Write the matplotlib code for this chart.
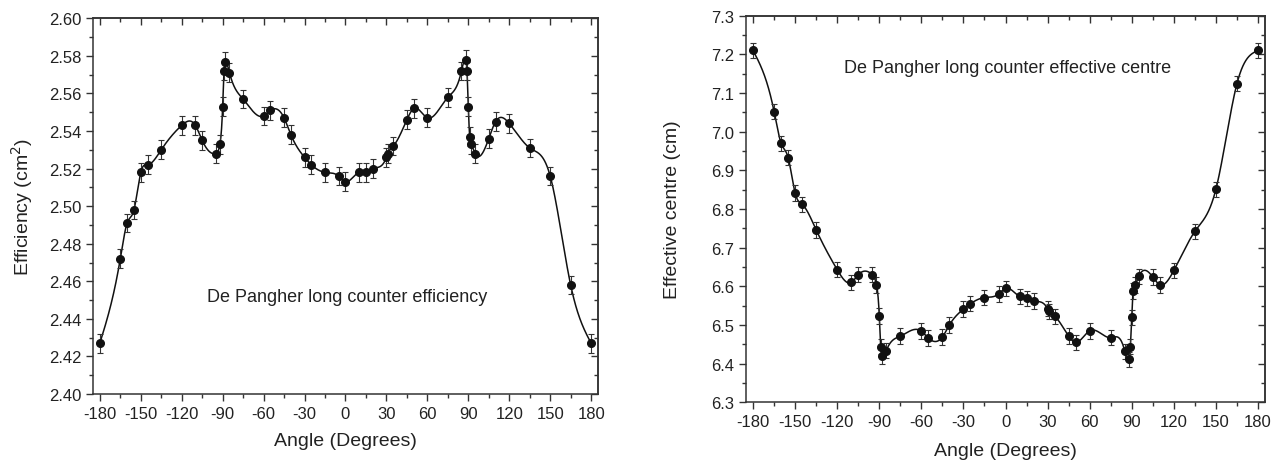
import numpy as np
import matplotlib
matplotlib.use("Agg")
import matplotlib.pyplot as plt
from matplotlib.ticker import MultipleLocator, FormatStrFormatter

plt.rcParams['font.family'] = ['Liberation Sans', 'DejaVu Sans']
plt.rcParams['axes.unicode_minus'] = False

angles = [-180, -165, -160, -155, -150, -145, -135, -120, -110, -105, -95, -92, -90, -89, -88, -85,
          -75, -60, -55, -45, -40, -30, -25, -15, -5, 0, 10, 15, 20, 30, 31, 35, 45, 50, 60, 75,
          85, 88, 89, 90, 91, 92, 95, 105, 110, 120, 135, 150, 165, 180]

efficiency = [2.427, 2.472, 2.491, 2.498, 2.518, 2.522, 2.530, 2.543, 2.543, 2.535, 2.528, 2.533,
              2.553, 2.572, 2.577, 2.571, 2.557, 2.548, 2.551, 2.547, 2.538, 2.526, 2.522, 2.518,
              2.516, 2.513, 2.518, 2.518, 2.520, 2.526, 2.528, 2.532, 2.546, 2.552, 2.547, 2.558,
              2.572, 2.578, 2.572, 2.553, 2.537, 2.533, 2.528, 2.536, 2.545, 2.544, 2.531, 2.516,
              2.458, 2.427]
efficiency_err = 0.005

centre = [7.210, 7.052, 6.970, 6.933, 6.841, 6.812, 6.746, 6.643, 6.610, 6.630, 6.630, 6.604,
          6.523, 6.444, 6.419, 6.434, 6.471, 6.484, 6.466, 6.469, 6.500, 6.541, 6.555, 6.571,
          6.580, 6.595, 6.574, 6.569, 6.562, 6.542, 6.535, 6.522, 6.471, 6.455, 6.485, 6.467,
          6.432, 6.411, 6.444, 6.520, 6.588, 6.603, 6.626, 6.624, 6.604, 6.641, 6.742, 6.851,
          7.124, 7.210]
centre_err = 0.02

x_ticks = [-180, -150, -120, -90, -60, -30, 0, 30, 60, 90, 120, 150, 180]


def natural_spline(x, y, xs):
    x = np.asarray(x, float)
    y = np.asarray(y, float)
    n = len(x)
    h = np.diff(x)
    A = np.zeros((n, n))
    b = np.zeros(n)
    A[0, 0] = 1
    A[-1, -1] = 1
    for i in range(1, n - 1):
        A[i, i - 1] = h[i - 1]
        A[i, i] = 2 * (h[i - 1] + h[i])
        A[i, i + 1] = h[i]
        b[i] = 6 * ((y[i + 1] - y[i]) / h[i] - (y[i] - y[i - 1]) / h[i - 1])
    M = np.linalg.solve(A, b)
    idx = np.clip(np.searchsorted(x, xs) - 1, 0, n - 2)
    x0, x1 = x[idx], x[idx + 1]
    hh = x1 - x0
    t0 = x1 - xs
    t1 = xs - x0
    return (M[idx] * t0 ** 3 / (6 * hh) + M[idx + 1] * t1 ** 3 / (6 * hh)
            + (y[idx] / hh - M[idx] * hh / 6) * t0 + (y[idx + 1] / hh - M[idx + 1] * hh / 6) * t1)


fig = plt.figure(figsize=(12.81, 4.64), dpi=100)
ax1 = fig.add_axes([0.0726, 0.1487, 0.3942, 0.8097])
ax2 = fig.add_axes([0.5824, 0.1308, 0.4051, 0.8332])

xs = np.linspace(-180, 180, 3000)
txt = '#222222'

for ax, vals, err, ylim, major, minor, fmt, ylabel, ypad, xpad, label, lpos in [
        (ax1, efficiency, efficiency_err, (2.40, 2.60), 0.02, 0.01, '%.2f', 'Efficiency (cm$^2$)', 10, 8,
         'De Pangher long counter efficiency', (-101.5, 2.452)),
        (ax2, centre, centre_err, (6.3, 7.3), 0.1, 0.05, '%.1f', 'Effective centre (cm)', 22, 9,
         'De Pangher long counter effective centre', (-115.5, 7.166))]:
    ax.plot(xs, natural_spline(angles, vals, xs), color='#111111', lw=1.1, zorder=2)
    ax.errorbar(angles, vals, yerr=err, fmt='o', color='#111111', ms=5.5,
                ecolor='#333333', elinewidth=0.8, capsize=2.5, capthick=0.8, zorder=3)
    ax.set_xlim(-185, 185)
    ax.set_ylim(*ylim)
    ax.set_xticks(x_ticks)
    ax.xaxis.set_minor_locator(MultipleLocator(15))
    ax.yaxis.set_major_locator(MultipleLocator(major))
    ax.yaxis.set_minor_locator(MultipleLocator(minor))
    ax.yaxis.set_major_formatter(FormatStrFormatter(fmt))
    ax.tick_params(axis='both', which='major', direction='out', length=5, width=1,
                   labelsize=12, colors='#333333', labelcolor=txt)
    ax.tick_params(axis='both', which='minor', direction='out', length=3, width=1, colors='#333333')
    sec_x = ax.secondary_xaxis('top')
    sec_x.set_xticks(x_ticks)
    sec_x.xaxis.set_minor_locator(MultipleLocator(15))
    sec_x.tick_params(which='major', direction='in', length=5, width=1, labeltop=False, colors='#333333')
    sec_x.tick_params(which='minor', direction='in', length=3, width=1, colors='#333333')
    sec_y = ax.secondary_yaxis('right')
    sec_y.yaxis.set_major_locator(MultipleLocator(major))
    sec_y.yaxis.set_minor_locator(MultipleLocator(minor))
    sec_y.tick_params(which='major', direction='in', length=5, width=1, labelright=False, colors='#333333')
    sec_y.tick_params(which='minor', direction='in', length=3, width=1, colors='#333333')
    for sp in list(ax.spines.values()) + [sec_x.spines['top'], sec_y.spines['right']]:
        sp.set_color('#333333')
        sp.set_linewidth(1.1)
    ax.set_xlabel('Angle (Degrees)', fontsize=14, color=txt, labelpad=xpad)
    ax.set_ylabel(ylabel, fontsize=14, color=txt, labelpad=ypad)
    ax.text(lpos[0], lpos[1], label, fontsize=13, color=txt, va='center', ha='left')

fig.savefig('out.png', dpi=100)
